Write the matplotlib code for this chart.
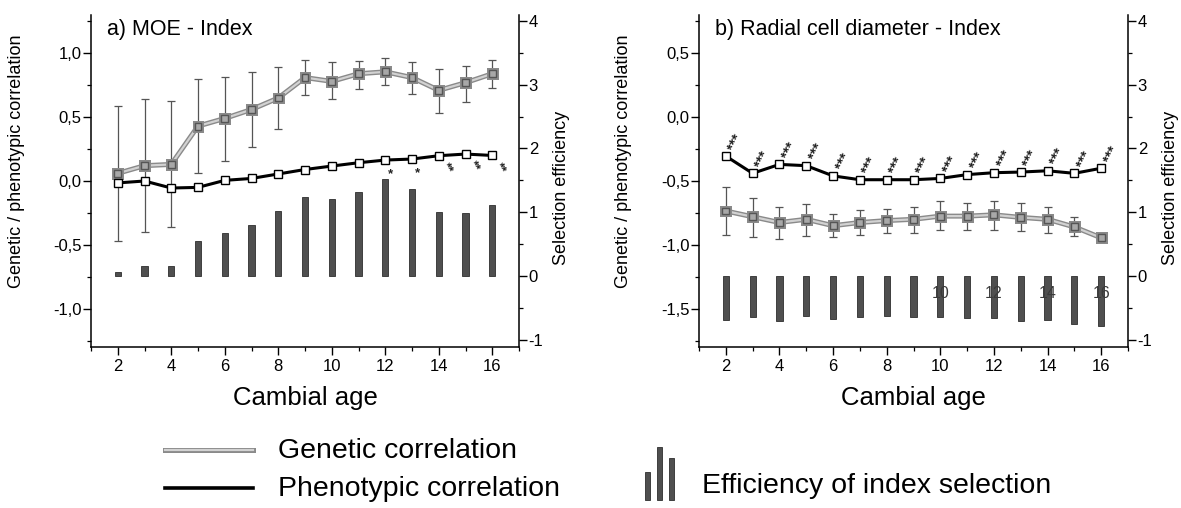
import matplotlib
matplotlib.use('Agg')
import matplotlib.pyplot as plt
import numpy as np
from matplotlib.ticker import MultipleLocator, FuncFormatter, FixedLocator
import matplotlib.patheffects as pe
from matplotlib.lines import Line2D
from matplotlib.patches import Rectangle

plt.rcParams['font.family'] = ['Liberation Sans', 'DejaVu Sans']

# ---------------- data ----------------
ages = [2, 3, 4, 5, 6, 7, 8, 9, 10, 11, 12, 13, 14, 15, 16]

# a) MOE - Index
moe_gen = [0.06, 0.12, 0.13, 0.43, 0.49, 0.56, 0.65, 0.81, 0.78, 0.84, 0.855, 0.81, 0.71, 0.77, 0.84]
moe_gen_lo = [-0.47, -0.40, -0.36, 0.06, 0.16, 0.27, 0.41, 0.67, 0.64, 0.72, 0.75, 0.68, 0.53, 0.62, 0.73]
moe_gen_hi = [0.59, 0.64, 0.63, 0.80, 0.815, 0.85, 0.89, 0.95, 0.93, 0.94, 0.96, 0.93, 0.88, 0.90, 0.95]
moe_phe = [-0.015, 0.0, -0.055, -0.05, 0.005, 0.02, 0.055, 0.09, 0.117, 0.143, 0.164, 0.172, 0.198, 0.211, 0.20]
moe_eff = [0.07, 0.16, 0.16, 0.55, 0.67, 0.80, 1.02, 1.24, 1.21, 1.32, 1.52, 1.37, 1.00, 0.99, 1.11]
moe_sig = ['', '', '', '', '', '', '', '', '', '', '*', '*', '**', '**', '**']

# b) Radial cell diameter - Index
rcd_gen = [-0.735, -0.78, -0.825, -0.80, -0.85, -0.825, -0.81, -0.80, -0.775, -0.775, -0.765, -0.785, -0.80, -0.86, -0.945]
rcd_gen_lo = [-0.925, -0.94, -0.955, -0.93, -0.94, -0.925, -0.91, -0.905, -0.885, -0.885, -0.88, -0.89, -0.905, -0.93, -0.965]
rcd_gen_hi = [-0.545, -0.63, -0.70, -0.68, -0.76, -0.73, -0.72, -0.70, -0.66, -0.67, -0.655, -0.675, -0.70, -0.785, -0.925]
rcd_phe = [-0.305, -0.44, -0.37, -0.38, -0.46, -0.49, -0.49, -0.49, -0.48, -0.45, -0.435, -0.43, -0.42, -0.44, -0.40]
rcd_eff = [-0.69, -0.65, -0.70, -0.62, -0.675, -0.64, -0.62, -0.64, -0.64, -0.665, -0.665, -0.70, -0.69, -0.75, -0.785]
rcd_sig = ['***'] * 15

# stray tick labels printed over the bars in panel b
overlay_ages = [10, 12, 14, 16]
overlay_labels = ['10', '12', '14', '16']

xticks = [2, 4, 6, 8, 10, 12, 14, 16]
eff_ticks = [-1, 0, 1, 2, 3, 4]

# ---------------- styles ----------------
W, H = 1181, 508
GEN_FILL = '#d2d2d2'
GEN_EDGE = '#8a8a8a'
BAR_COLOR = '#4f4f4f'
gen_effects = [pe.Stroke(linewidth=3.6, foreground=GEN_EDGE), pe.Normal()]

comma_fmt = FuncFormatter(lambda v, p: f"{v:.1f}".replace('.', ','))
int_fmt = FuncFormatter(lambda v, p: f"{int(round(v))}")

fig = plt.figure(figsize=(W / 100, H / 100), dpi=100)


def make_axes(left_px, right_px):
    top, bottom = 15, 347
    ax = fig.add_axes([left_px / W, 1 - bottom / H, (right_px - left_px) / W, (bottom - top) / H])
    axr = ax.twinx()
    ax.set_zorder(axr.get_zorder() + 1)
    ax.patch.set_visible(False)
    return ax, axr


def style_axes(ax, axr, ylim, yticks):
    ax.set_xlim(1, 17)
    ax.set_ylim(*ylim)
    axr.set_ylim(-1.114, 4.094)
    ax.xaxis.set_major_locator(FixedLocator(xticks))
    ax.xaxis.set_minor_locator(MultipleLocator(1))
    ax.yaxis.set_major_locator(FixedLocator(yticks))
    ax.yaxis.set_minor_locator(MultipleLocator(0.25))
    ax.yaxis.set_major_formatter(comma_fmt)
    axr.yaxis.set_major_locator(FixedLocator(eff_ticks))
    axr.yaxis.set_minor_locator(MultipleLocator(0.5))
    axr.yaxis.set_major_formatter(int_fmt)
    for a in (ax, axr):
        a.spines['top'].set_visible(False)
        for s in a.spines.values():
            s.set_linewidth(1.1)
        a.tick_params(which='major', direction='out', length=5.5, width=1.0, labelsize=12, pad=1.5)
        a.tick_params(which='minor', direction='out', length=3, width=0.9)
    axr.spines['left'].set_visible(False)
    axr.spines['bottom'].set_visible(False)
    ax.spines['right'].set_visible(False)
    ax.tick_params(axis='x', labelsize=12, pad=3)
    ax.set_xlabel('Cambial age', fontsize=18.5, va='center')
    ax.xaxis.set_label_coords(0.5, -(398 - 347) / 332)
    ax.set_ylabel('Genetic / phenotypic correlation', fontsize=13, va='center')
    ax.yaxis.set_label_coords(-0.175, 0.56)
    axr.set_ylabel('Selection efficiency', fontsize=13, va='center', rotation=90)
    axr.yaxis.set_label_coords(1.100, 0.48)


def draw_panel(ax, axr, gen, lo, hi, phe, eff, sig, star_off, star_rot, star_size, title):
    gen = np.asarray(gen)
    yerr = [gen - np.asarray(lo), np.asarray(hi) - gen]
    axr.bar(ages, eff, width=0.23, color=BAR_COLOR, edgecolor='#2e2e2e', linewidth=0.6, zorder=2)
    ax.errorbar(ages, gen, yerr=yerr, fmt='none', ecolor='#555555', elinewidth=0.9,
                capsize=2.6, capthick=0.9, zorder=2)
    ax.plot(ages, gen, color=GEN_FILL, lw=1.6, path_effects=gen_effects, zorder=3,
            marker='s', ms=5.0, mfc='#a8a8a8', mec='#555555', mew=1.0)
    ax.plot(ages, phe, color='black', lw=2.2, zorder=4,
            marker='s', ms=6.0, mfc='white', mec='black', mew=1.0)
    for x, y, s in zip(ages, phe, sig):
        if s:
            ax.annotate(s, (x, y), xytext=star_off[len(s)], textcoords='offset points',
                        ha='center', va='center', rotation=star_rot[len(s)],
                        fontsize=star_size, fontweight='bold', color='#222222', zorder=5)
    ax.text(0.038, 0.955, title, transform=ax.transAxes, fontsize=15.5, ha='left', va='center')


# panel a
ax1, ax1r = make_axes(91, 519)
style_axes(ax1, ax1r, (-1.3, 1.3), [-1.0, -0.5, 0.0, 0.5, 1.0])
draw_panel(ax1, ax1r, moe_gen, moe_gen_lo, moe_gen_hi, moe_phe, moe_eff, moe_sig,
           {1: (4, -10), 2: (6, -9)}, {1: 0, 2: -62}, 9.5, 'a) MOE - Index')

# panel b
ax2, ax2r = make_axes(699, 1128)
style_axes(ax2, ax2r, (-1.8, 0.8), [-1.5, -1.0, -0.5, 0.0, 0.5])
draw_panel(ax2, ax2r, rcd_gen, rcd_gen_lo, rcd_gen_hi, rcd_phe, rcd_eff, rcd_sig,
           {3: (7, 10)}, {3: 64}, 10.5, 'b) Radial cell diameter - Index')
for x, t in zip(overlay_ages, overlay_labels):
    ax2r.text(x, -0.27, t, ha='center', va='center', fontsize=11.5, color='#3a3a3a', zorder=6)

# ---------------- legend (figure level) ----------------
def fx(px):
    return px / W


def fy(py):
    return 1 - py / H


fig.add_artist(Line2D([fx(165), fx(253)], [fy(450), fy(450)], color=GEN_FILL, lw=1.6,
                      path_effects=gen_effects))
fig.add_artist(Line2D([fx(165), fx(253)], [fy(488), fy(488)], color='black', lw=2.6))
fig.text(fx(278), fy(451), 'Genetic correlation', fontsize=20.5, ha='left', va='center')
fig.text(fx(278), fy(489), 'Phenotypic correlation', fontsize=20.5, ha='left', va='center')
for cx, top in zip([647, 659, 671], [472, 447, 458]):
    fig.add_artist(Rectangle((fx(cx - 2.5), fy(500)), 5 / W, (500 - top) / H,
                             transform=fig.transFigure, facecolor=BAR_COLOR,
                             edgecolor='#2e2e2e', linewidth=0.6))
fig.text(fx(702), fy(486), 'Efficiency of index selection', fontsize=20.5, ha='left', va='center')

fig.savefig('out.png', dpi=100)
